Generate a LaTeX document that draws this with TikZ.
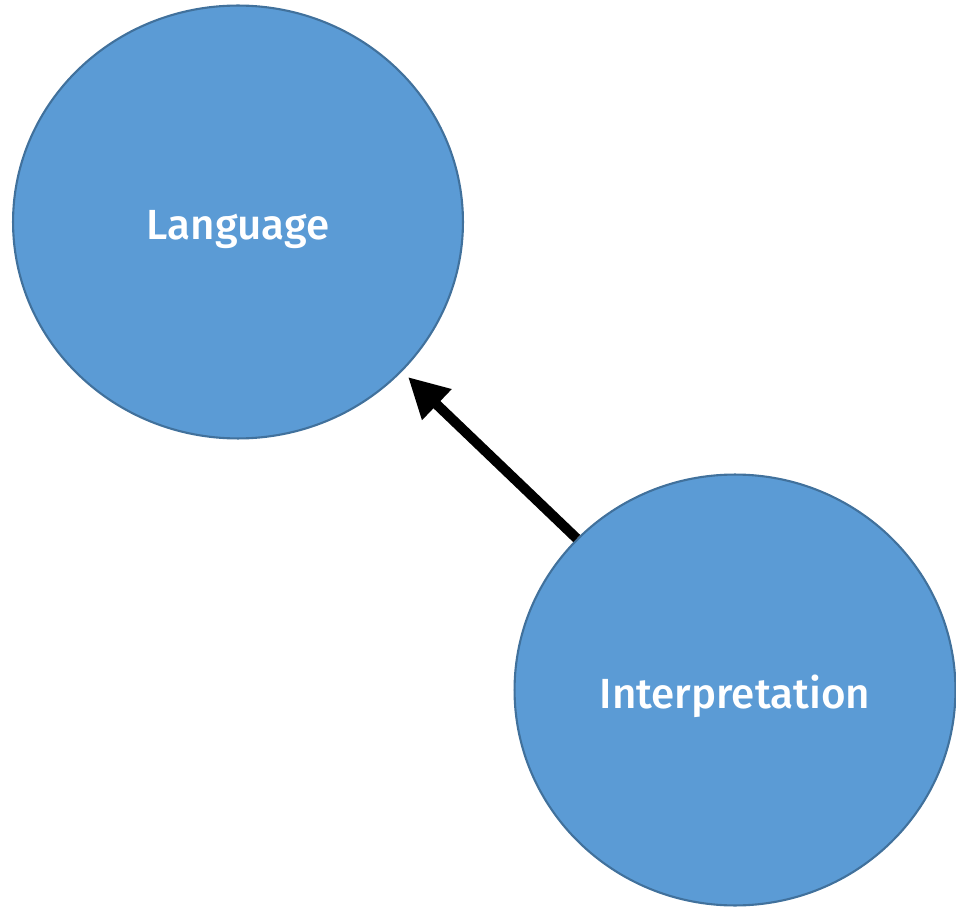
\documentclass[tikz,border=0pt]{standalone}
\usepackage{fontspec}
\setmainfont{Fira Sans}[UprightFont=* Medium]
\usepackage{tikz}
\usetikzlibrary{shapes.geometric}
\usetikzlibrary{arrows.meta}
\definecolor{bubblefill}{HTML}{5B9BD5}
\definecolor{bubbleline}{HTML}{41719C}
\tikzstyle{bubble}=[ellipse, fill=bubblefill, draw=bubbleline, line width=1.2pt,
    text=white, font=\fontsize{24}{29}\selectfont, inner sep=0pt,
    text height=0.72cm, text depth=0pt]
\tikzstyle{bigarrow}=[line width=0.2cm, -{Triangle[length=0.8cm, width=0.8cm]}]

\begin{document}
\begin{tikzpicture}[x=0.02cm, y=-0.02cm]
\useasboundingbox (0,0) rectangle (956,908);
\node[bubble, minimum width=9.0cm, minimum height=8.66cm] (lang) at (238,222){Language};
\node[bubble, minimum width=8.82cm, minimum height=8.62cm] (interp) at (735,690){Interpretation};
\coordinate (tip) at (408,377);
\draw[bigarrow](interp) -- (tip);
\end{tikzpicture}
\end{document}
